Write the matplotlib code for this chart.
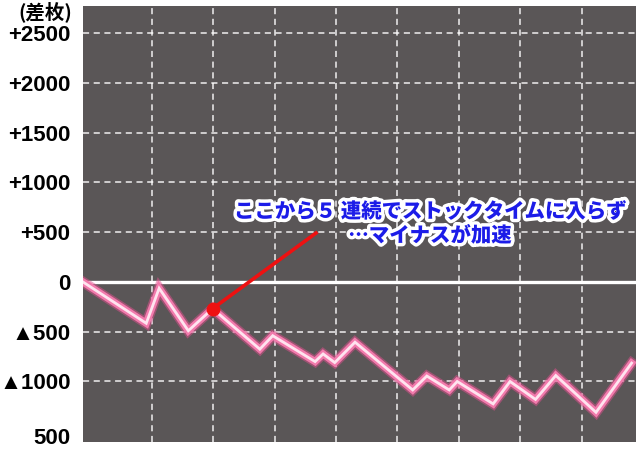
import matplotlib
matplotlib.use("Agg")
import matplotlib.pyplot as plt
import matplotlib.patheffects as pe

# games played (x) and coin difference (y)
games = [0, 1030, 1240, 1715, 2110, 2880, 3090, 3780, 3910, 4100, 4430,
         5370, 5600, 5965, 6095, 6680, 6955, 7370, 7700, 8355, 8935]
diff = [0, -415, -63, -490, -268, -675, -540, -800, -723, -810, -605,
        -1085, -945, -1085, -1000, -1225, -1000, -1180, -940, -1310, -815]

y_ticks = [2500, 2000, 1500, 1000, 500, 0, -500, -1000, -1550]
y_labels = ["+2500", "+2000", "+1500", "+1000", "+500", "0", "▲500", "▲1000", "500"]
y_grid = [2500, 2000, 1500, 1000, 500, -500, -1000]
x_grid = [1120, 2120, 3120, 4120, 5120, 6120, 7120, 8120]

marked = 4  # index of the point the callout refers to
callout_end = (3795, 492)
callout_text = "ここから５ 連続でストックタイムに入らず\n…マイナスが加速"
callout_pos = (5650, 588)

fig = plt.figure(figsize=(6.4, 4.53), dpi=100)
ax = fig.add_axes([0.1297, 0.0243, 0.864, 0.9625])
ax.set_facecolor("#5a5657")
for s in ax.spines.values():
    s.set_visible(False)

for y in y_grid:
    ax.axhline(y, color="white", lw=1.1, ls=(0, (4, 3)), alpha=0.9, zorder=1)
for x in x_grid:
    ax.axvline(x, color="white", lw=1.1, ls=(0, (4, 3)), alpha=0.9, zorder=1)
ax.axhline(0, color="white", lw=2.4, zorder=2)

# glowing pink line
ax.plot(games, diff, color="#e0508e", lw=7.5, alpha=0.5, solid_joinstyle="miter", zorder=3)
ax.plot(games, diff, color="#f27aac", lw=5.2, solid_joinstyle="miter", zorder=4)
ax.plot(games, diff, color="#ffe4ef", lw=2.0, solid_joinstyle="miter", zorder=5)

# callout
ax.plot([games[marked], callout_end[0]], [diff[marked], callout_end[1]],
        color="#ee1111", lw=2.6, zorder=6)
ax.plot(games[marked], diff[marked], "o", color="#ee1111", ms=9, zorder=7)
ax.text(callout_pos[0], callout_pos[1], callout_text, ha="center", va="center",
        multialignment="center", fontsize=14.7, fontweight="black", color="#1c1ce8",
        family=["Noto Sans CJK JP", "DejaVu Sans"], linespacing=1.2, zorder=8,
        path_effects=[pe.withStroke(linewidth=5, foreground="white")])

ax.set_xlim(0, 9006)
ax.set_ylim(-1608, 2774)
ax.set_xticks([])
ax.set_yticks(y_ticks)
ax.set_yticklabels(y_labels)
ax.tick_params(axis="y", length=0, pad=9)
for lab in ax.get_yticklabels():
    lab.set_fontfamily(["Liberation Sans", "Noto Sans CJK JP", "DejaVu Sans"])
    lab.set_fontweight("bold")
    lab.set_fontsize(16)
    lab.set_color("black")

fig.text(72 / 640, 1 - 12 / 453, "(差枚)", ha="right", va="center", fontsize=14,
         fontweight="bold", family=["Noto Sans CJK JP", "DejaVu Sans"])

fig.savefig("out.png", dpi=100, facecolor="white")
